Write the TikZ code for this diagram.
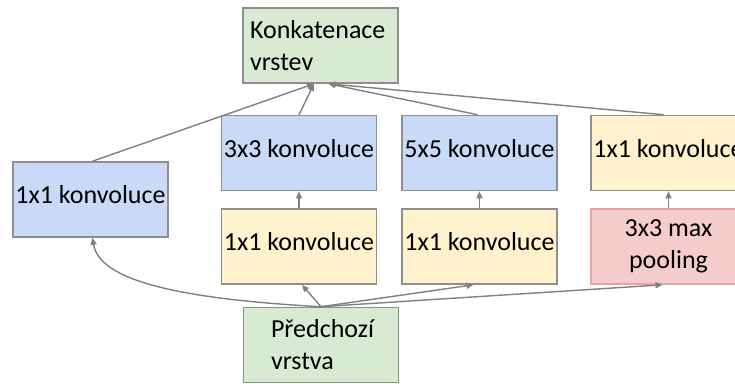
\documentclass[tikz,border=0pt]{standalone}
\usepackage{fontspec}
\setmainfont{Carlito}
\usetikzlibrary{arrows.meta}
\definecolor{bluef}{HTML}{C9DAF8}
\definecolor{yellf}{HTML}{FFF2CC}
\definecolor{greenf}{HTML}{D9EAD3}
\definecolor{redf}{HTML}{F4CCCC}
\definecolor{redd}{HTML}{E6A3A3}
\definecolor{bord}{HTML}{8E8E8E}
\definecolor{arrc}{HTML}{808080}
\tikzset{
  box/.style={draw=bord, line width=1.6pt, minimum width=155pt, minimum height=75pt,
    inner sep=0pt, font=\fontsize{26}{32}\selectfont, text=black},
  oneline/.style={text height=16pt, text depth=8pt},
  bluebox/.style={box, oneline, fill=bluef},
  yellbox/.style={box, oneline, fill=yellf},
  greenbox/.style={box, fill=greenf},
  redbox/.style={box, fill=redf, draw=redd},
  arr/.style={draw=arrc, line width=1.4pt, -{Triangle[length=7pt,width=6pt]}}
}
\begin{document}
\begin{tikzpicture}[x=1pt,y=-1pt]
\clip (0,0) rectangle (735,383);
\fill[white] (0,0) rectangle (735,383);
\node[greenbox, text width=141pt, align=left] (concat) at (320.5,45.5) {Konkatenace\\vrstev};
\node[bluebox] (left1) at (90.5,199.5) {1x1 konvoluce};
\node[bluebox] (c3) at (299,153) {3x3 konvoluce};
\node[yellbox] (r3) at (299,246.5) {1x1 konvoluce};
\node[bluebox] (c5) at (479.5,153) {5x5 konvoluce};
\node[yellbox] (r5) at (479.5,246.5) {1x1 konvoluce};
\node[yellbox] (p1) at (668.5,153) {1x1 konvoluce};
\node[redbox, align=center] (pool) at (668.5,246.5) {3x3 max\\pooling};
\node[greenbox, text width=100pt, align=left] (pred) at (321,345) {Předchozí\\vrstva};
% to concatenation
\draw[arr] ([xshift=2pt]left1.north) -- ([xshift=-6.5pt]concat.south);
\draw[arr] (c3.north) -- ([xshift=-6.5pt]concat.south);
\draw[arr] ([xshift=-2pt]c5.north) -- ([xshift=8pt]concat.south);
\draw[arr] ([xshift=-5pt]p1.north) -- ([xshift=8pt]concat.south);
% vertical
\draw[arr] (r3.north) -- (c3.south);
\draw[arr] (r5.north) -- (c5.south);
\draw[arr] (pool.north) -- (p1.south);
% from previous layer
\draw[arr] (pred.north) .. controls (200,300) and (100,285) .. ([xshift=2pt]left1.south);
\draw[arr] (pred.north) -- ([xshift=3pt]r3.south);
\draw[arr] (pred.north) -- ([xshift=-6pt]r5.south);
\draw[arr] (pred.north) -- ([xshift=-6pt]pool.south);
\end{tikzpicture}
\end{document}
